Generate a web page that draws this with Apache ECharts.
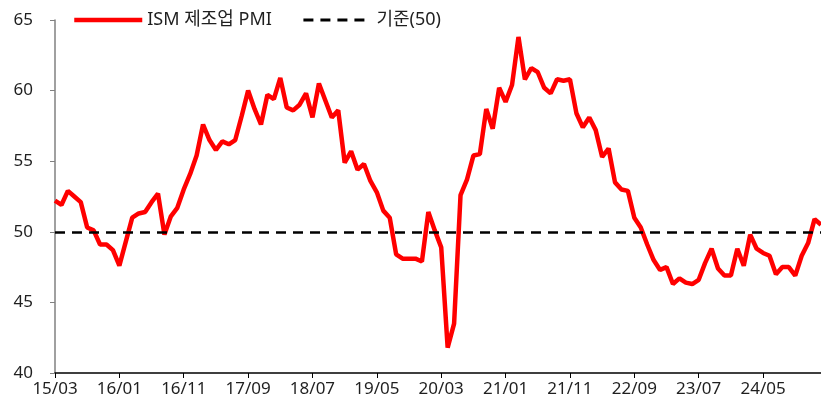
<!DOCTYPE html>
<html>
<head>
<meta charset="utf-8">
<script src="https://cdn.jsdelivr.net/npm/echarts@6/dist/echarts.min.js"></script>
<style>
  html, body { margin: 0; padding: 0; background: #fff; }
  #chart { width: 821px; height: 408px; }
</style>
</head>
<body>
<div id="chart"></div>
<script>
// 월별 카테고리 (15/03 ~ 25/02)
const months = [];
for (let i = 0; i < 120; i++) {
    const y = 2015 + Math.floor((2 + i) / 12);
    const m = (2 + i) % 12 + 1;
    months.push(String(y).slice(2) + '/' + (m < 10 ? '0' + m : m));
}

// ISM 제조업 PMI
const pmi = [
    52.2, 51.9, 52.9, 52.5, 52.1, 50.3, 50.1, 49.1, 49.1, 48.7,
    47.6, 49.3, 51.0, 51.3, 51.4, 52.1, 52.7, 49.8, 51.1, 51.7,
    53.0, 54.1, 55.4, 57.6, 56.5, 55.8, 56.4, 56.2, 56.5, 58.2,
    60.0, 58.7, 57.6, 59.7, 59.4, 60.9, 58.8, 58.6, 59.0, 59.8,
    58.1, 60.5, 59.3, 58.1, 58.6, 54.9, 55.7, 54.4, 54.8, 53.6,
    52.8, 51.5, 51.0, 48.4, 48.1, 48.1, 48.1, 47.9, 51.4, 50.1,
    48.9, 41.8, 43.5, 52.6, 53.7, 55.4, 55.5, 58.7, 57.3, 60.2,
    59.2, 60.4, 63.8, 60.8, 61.6, 61.3, 60.2, 59.8, 60.8, 60.7,
    60.8, 58.4, 57.4, 58.1, 57.2, 55.3, 55.9, 53.5, 53.0, 52.9,
    51.0, 50.3, 49.1, 48.0, 47.3, 47.5, 46.3, 46.7, 46.4, 46.3,
    46.6, 47.8, 48.8, 47.4, 46.9, 46.9, 48.8, 47.6, 49.8, 48.8,
    48.5, 48.3, 47.0, 47.5, 47.5, 46.9, 48.3, 49.2, 50.9, 50.5
];

const baseline = 50;
const yTicks = [40, 45, 50, 55, 60, 65];

const font = '"Noto Sans", "Noto Sans CJK KR", sans-serif';
const textColor = '#1f1f1f';

const chart = echarts.init(document.getElementById('chart'));
chart.setOption({
    animation: false,
    textStyle: { fontFamily: font },
    legend: {
        left: 67,
        top: 6,
        itemWidth: 68,
        itemHeight: 12,
        itemGap: 30,
        itemStyle: { opacity: 0 },
        textStyle: { fontSize: 18, color: textColor, fontFamily: font },
        data: [
            { name: 'ISM 제조업 PMI', lineStyle: { width: 4.5 } },
            { name: '기준(50)', lineStyle: { width: 3, type: [10, 7] } }
        ]
    },
    grid: { left: 55, right: 0, top: 20, bottom: 35 },
    xAxis: {
        type: 'category',
        data: months,
        boundaryGap: false,
        axisLine: { lineStyle: { color: '#000', width: 1.5 } },
        axisTick: { interval: 9, length: 5, lineStyle: { color: '#000' } },
        axisLabel: { interval: 9, fontSize: 17, color: textColor, margin: 8 },
        splitLine: { show: false }
    },
    yAxis: {
        type: 'value',
        min: yTicks[0],
        max: yTicks[yTicks.length - 1],
        interval: 5,
        axisLine: { show: true, lineStyle: { color: '#808080', width: 1.5 } },
        axisTick: { show: true, length: 5, lineStyle: { color: '#808080' } },
        axisLabel: { fontSize: 17, color: textColor, margin: 22 },
        splitLine: { show: false }
    },
    series: [
        {
            name: 'ISM 제조업 PMI',
            type: 'line',
            data: pmi,
            symbol: 'none',
            itemStyle: { color: '#ff0000' },
            lineStyle: { color: '#ff0000', width: 4.5 },
            z: 3
        },
        {
            name: '기준(50)',
            type: 'line',
            data: [],
            symbol: 'none',
            itemStyle: { color: '#000' },
            lineStyle: { color: '#000', width: 2.5, type: [10, 7] },
            markLine: {
                silent: true,
                symbol: 'none',
                label: { show: false },
                lineStyle: { color: '#000', width: 2.5, type: [10, 7] },
                data: [{ yAxis: baseline }]
            },
            z: 2
        }
    ]
});
</script>
</body>
</html>
